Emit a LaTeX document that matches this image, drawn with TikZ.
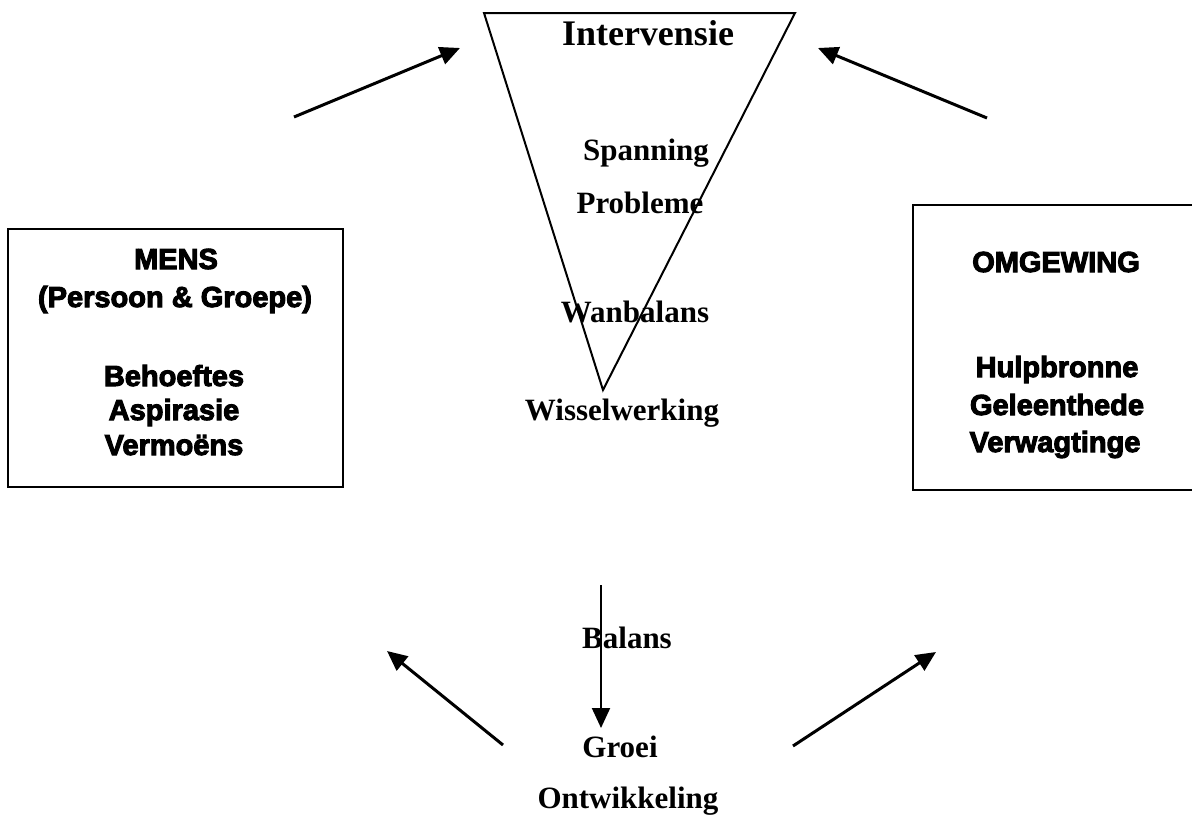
\documentclass[tikz,border=0pt]{standalone}
\usepackage{fontspec}
\setmainfont{Liberation Serif}
\newfontfamily\boxfont{Liberation Sans}[UprightFont={* Bold},FakeBold=3.5]
\usetikzlibrary{arrows.meta,positioning}

\begin{document}
\begin{tikzpicture}[x=1pt,y=-1pt]
\tikzstyle{every node} = [inner sep=0pt, anchor=base]
\tikzstyle{word} = [font=\fontsize{31}{36}\selectfont\bfseries]
\tikzstyle{bigword} = [font=\fontsize{36}{42}\selectfont\bfseries]
\tikzstyle{boxword} = [font=\fontsize{29}{34}\selectfont\boxfont]
\tikzstyle{frame} = [draw, line width=2pt, anchor=center]
\tikzstyle{pijl} = [line width=3pt, -{Triangle[length=20pt,width=18pt]}]
\useasboundingbox (0,0) rectangle (1192,817);
% triangle
\coordinate (tl) at (484,13);
\coordinate (tr) at (795,13);
\coordinate (tip) at (603,390);
\draw[line width=2pt] (tl) -- (tr) -- (tip) -- cycle;
\node[bigword] (interv) at (648,45) {Intervensie};
\node[word] (span) at (646,160) {Spanning};
\node[word] (prob) at (640,213) {Probleme};
\node[word] (wanb) at (635,322) {Wanbalans};
\node[word] (wiss) at (622,420) {Wisselwerking};
% mens
\node[frame, minimum width=335pt, minimum height=258pt] (mens) at (175.5,358) {};
\node[boxword] (mtitle) at (176,269) {MENS};
\node[boxword] (msub) at (175,307) {(Persoon \& Groepe)};
\node[boxword] (beh) at (174,386) {Behoeftes};
\node[boxword] (asp) at (174,420) {Aspirasie};
\node[boxword] (verm) at (174,455) {Vermoëns};
% omgewing
\node[frame, minimum width=287pt, minimum height=285pt] (omg) at (1056.5,347.5) {};
\node[boxword] (otitle) at (1056,272) {OMGEWING};
\node[boxword] (hulp) at (1057,377) {Hulpbronne};
\node[boxword] (gele) at (1057,415) {Geleenthede};
\node[boxword] (verw) at (1055,452) {Verwagtinge};
% bottom
\node[word] (bal) at (627,648) {Balans};
\node[word] (groei) at (620,757) {Groei};
\node[word] (ontw) at (628,808) {Ontwikkeling};
% arrows
\coordinate (lt1) at (294,117); \coordinate (lt2) at (460,48);
\coordinate (rt1) at (987,118); \coordinate (rt2) at (818,48);
\coordinate (lb1) at (503,745); \coordinate (lb2) at (387,651);
\coordinate (rb1) at (793,746); \coordinate (rb2) at (936,652);
\coordinate (vt1) at (601,585); \coordinate (vt2) at (601,728);
\draw[pijl] (lt1) -- (lt2);
\draw[pijl] (rt1) -- (rt2);
\draw[pijl] (lb1) -- (lb2);
\draw[pijl] (rb1) -- (rb2);
\draw[pijl, line width=2pt] (vt1) -- (vt2);
\end{tikzpicture}
\end{document}
